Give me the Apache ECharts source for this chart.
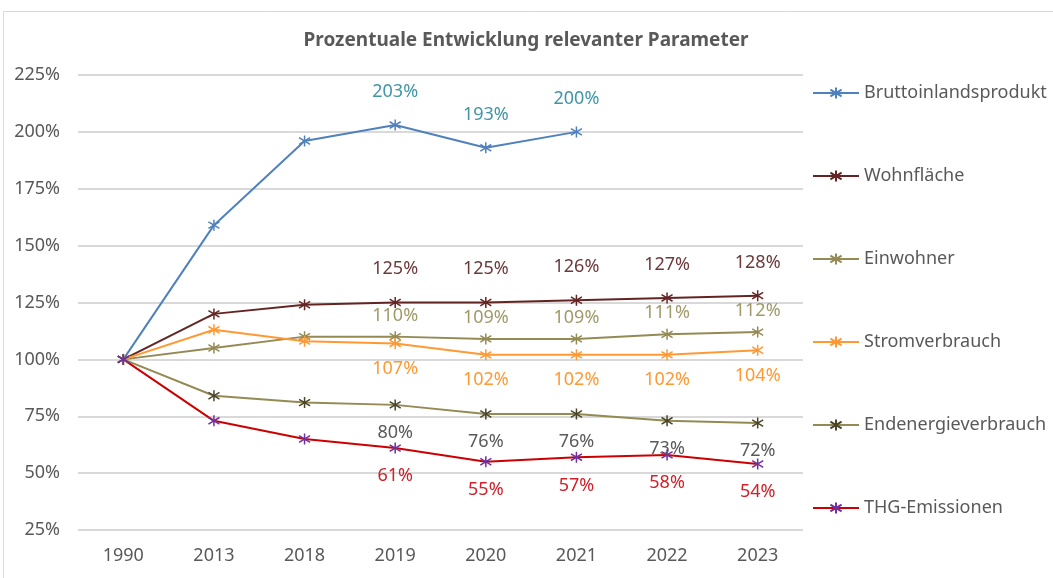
<!DOCTYPE html>
<html>
<head>
<meta charset="utf-8">
<script src="https://cdn.jsdelivr.net/npm/echarts@6/dist/echarts.min.js"></script>
<style>
  html, body { margin: 0; padding: 0; background: #fff; }
  #main { width: 1053px; height: 578px; }
</style>
</head>
<body>
<div id="main"></div>
<script>
var years = ['1990', '2013', '2018', '2019', '2020', '2021', '2022', '2023'];
var bip = [100, 159, 196, 203, 193, 200, null, null];
var wohnflaeche = [100, 120, 124, 125, 125, 126, 127, 128];
var einwohner = [100, 105, 110, 110, 109, 109, 111, 112];
var strom = [100, 113, 108, 107, 102, 102, 102, 104];
var endenergie = [100, 84, 81, 80, 76, 76, 73, 72];
var thg = [100, 73, 65, 61, 55, 57, 58, 54];

var FONT = 'Noto Sans';
// Excel-artiger Stern-Marker
var STAR = 'path://M0,-5L0,5M-4.3,-3L4.3,3M-4.3,3L4.3,-3';

function mkSeries(name, data, lineColor, markColor, labelColor, pos, dist) {
    return {
        name: name,
        type: 'line',
        data: data,
        symbol: STAR,
        symbolSize: 11,
        connectNulls: false,
        lineStyle: {color: lineColor, width: 2},
        itemStyle: {color: markColor, borderColor: markColor, borderWidth: 1.5},
        label: {
            show: true,
            position: pos,
            distance: dist,
            color: labelColor,
            fontFamily: FONT,
            fontSize: 18,
            formatter: function (p) {
                return p.dataIndex >= 3 && p.value != null ? p.value + '%' : '';
            }
        },
        emphasis: {disabled: true}
    };
}

var chart = echarts.init(document.getElementById('main'));
var option = {
    animation: false,
    textStyle: {fontFamily: FONT},
    title: {
        text: 'Prozentuale Entwicklung relevanter Parameter',
        left: 521, top: 26, textAlign: 'center',
        textStyle: {fontFamily: FONT, fontSize: 19, fontWeight: 'bold', color: '#595959'}
    },
    graphic: [{
        type: 'rect',
        shape: {x: 3.5, y: 11.5, width: 1100, height: 600},
        style: {fill: 'none', stroke: '#d9d9d9', lineWidth: 1}
    }],
    legend: {
        orient: 'vertical',
        left: 807, top: 79,
        itemWidth: 46, itemHeight: 14, itemGap: 65,
        textStyle: {fontFamily: FONT, fontSize: 18, color: '#595959'},
        data: ['Bruttoinlandsprodukt', 'Wohnfläche', 'Einwohner', 'Stromverbrauch', 'Endenergieverbrauch', 'THG-Emissionen']
    },
    grid: {left: 78, right: 250, top: 75, bottom: 48},
    xAxis: {
        type: 'category',
        data: years,
        axisLine: {show: false},
        axisTick: {show: false},
        axisLabel: {color: '#595959', fontSize: 18, fontFamily: FONT, margin: 17}
    },
    yAxis: {
        type: 'value',
        min: 25, max: 225, interval: 25,
        axisLine: {show: false},
        axisTick: {show: false},
        axisLabel: {color: '#595959', fontSize: 18, fontFamily: FONT, formatter: '{value}%', margin: 18},
        splitLine: {lineStyle: {color: '#d9d9d9', width: 2}}
    },
    series: [
        mkSeries('Bruttoinlandsprodukt', bip, '#4f81bd', '#4f81bd', '#4196a6', 'top', 18),
        mkSeries('Wohnfläche', wohnflaeche, '#632523', '#632523', '#6b3a3a', 'top', 18),
        mkSeries('Einwohner', einwohner, '#948a54', '#948a54', '#a09a6a', 'top', 6),
        mkSeries('Stromverbrauch', strom, '#ff9933', '#ff9933', '#ff9933', 'bottom', 10),
        mkSeries('Endenergieverbrauch', endenergie, '#948a54', '#4a452a', '#595959', 'bottom', 13),
        mkSeries('THG-Emissionen', thg, '#cc0000', '#7030a0', '#d0202a', 'bottom', 13)
    ]
};
chart.setOption(option);
</script>
</body>
</html>
